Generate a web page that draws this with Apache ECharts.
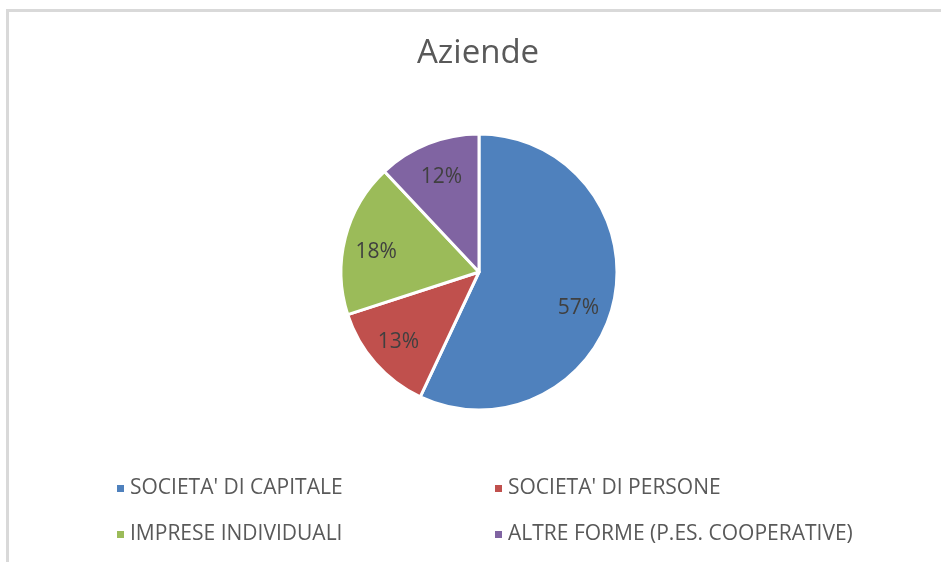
<!DOCTYPE html>
<html lang="it">
<head>
  <meta charset="UTF-8">
  <title>Aziende</title>
  <script src="https://cdn.jsdelivr.net/npm/echarts@6.0.0/dist/echarts.min.js"></script>
  <style>
    body { margin: 0; background: #fff; }
  </style>
</head>
<body>
  <div id="chart" style="width: 941px; height: 562px;"></div>

  <script>
    // dati del grafico
    const categories = ["SOCIETA' DI CAPITALE", "SOCIETA' DI PERSONE", 'IMPRESE INDIVIDUALI', 'ALTRE FORME (P.ES. COOPERATIVE)']
    const values = [57, 13, 18, 12]
    const colors = ['#4F81BD', '#C0504D', '#9BBB59', '#8064A2']

    const font = 'Open Sans'
    const textColor = '#595959'

    const pieData = categories.map((name, i) => ({ name, value: values[i], itemStyle: { color: colors[i] } }))

    const chart = echarts.init(document.getElementById('chart'), null, { renderer: 'canvas' })
    chart.setOption({
      backgroundColor: '#fff',
      animation: false,
      title: {
        text: 'Aziende',
        left: 412,
        top: 32,
        textStyle: { fontFamily: font, fontSize: 33, fontWeight: 'normal', color: textColor }
      },
      // cornice del grafico (solo bordo alto e sinistro visibili)
      graphic: [
        { type: 'rect', shape: { x: 6, y: 9, width: 935, height: 3 }, style: { fill: '#d9d9d9' }, silent: true },
        { type: 'rect', shape: { x: 6, y: 9, width: 3, height: 553 }, style: { fill: '#d9d9d9' }, silent: true }
      ],
      legend: [{
        data: [categories[0], categories[2]],
        orient: 'vertical',
        left: 110,
        top: 473,
        itemGap: 25,
        icon: 'rect',
        itemWidth: 9,
        itemHeight: 9,
        textStyle: { fontFamily: font, fontSize: 21, color: textColor }
      }, {
        data: [categories[1], categories[3]],
        orient: 'vertical',
        left: 488,
        top: 473,
        itemGap: 25,
        icon: 'rect',
        itemWidth: 9,
        itemHeight: 9,
        textStyle: { fontFamily: font, fontSize: 21, color: textColor }
      }],
      series: [{
        name: 'Aziende',
        type: 'pie',
        center: [479, 272],
        radius: 138,
        startAngle: 90,
        clockwise: true,
        silent: true,
        itemStyle: { borderColor: '#fff', borderWidth: 3 },
        label: { show: false },
        labelLine: { show: false },
        data: pieData
      }, {
        // serie trasparente solo per posizionare le etichette più verso il bordo
        name: 'etichette',
        type: 'pie',
        center: [479, 272],
        radius: [60, 138],
        startAngle: 90,
        clockwise: true,
        silent: true,
        itemStyle: { color: 'transparent', borderWidth: 0 },
        label: {
          show: true,
          position: 'inside',
          formatter: p => Math.round(p.percent) + '%',
          fontFamily: font,
          fontSize: 21,
          color: '#404040'
        },
        labelLine: { show: false },
        data: categories.map((name, i) => ({
          name: name + ' ',
          value: values[i],
          // piccoli spostamenti per avvicinarsi alla posizione delle etichette originali
          label: { offset: [[0, 14], [-4, 3], [-4, 5], [0, 0]][i] }
        }))
      }]
    })
  </script>
</body>
</html>
